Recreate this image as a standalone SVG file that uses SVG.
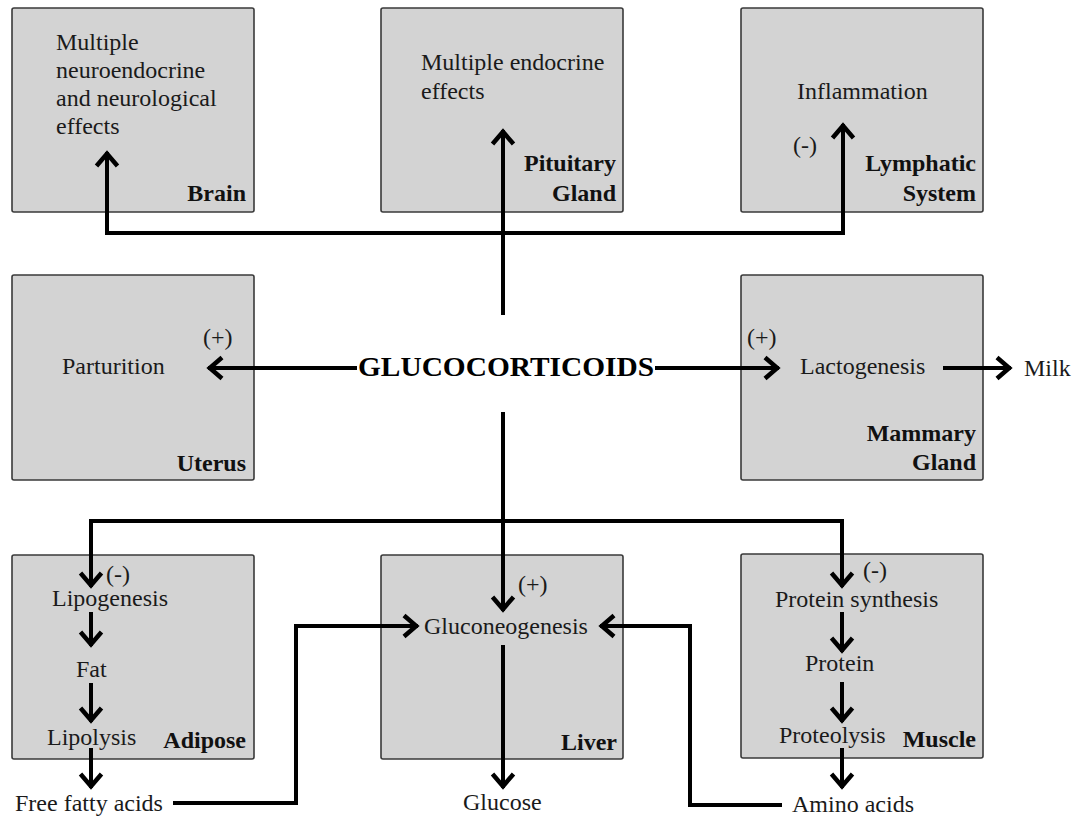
<svg xmlns="http://www.w3.org/2000/svg" width="1080" height="819" viewBox="0 0 1080 819">
<style>
.box{fill:#d3d3d3;stroke:#3a3a3a;stroke-width:1.6}
.t{font-family:"Liberation Serif","Times New Roman",serif;font-size:24px;fill:#1a1a1a}
.b{font-family:"Liberation Serif","Times New Roman",serif;font-size:24px;font-weight:bold;fill:#111;text-anchor:end}
.ln{fill:none;stroke:#000;stroke-width:4;stroke-linejoin:miter}
</style>
<defs>
<marker id="ah" markerUnits="userSpaceOnUse" viewBox="-18 -14 20 28" markerWidth="20" markerHeight="28" refX="0" refY="0" orient="auto">
<path d="M-14,-10.5 L-1.8,0 L-14,10.5" fill="none" stroke="#000" stroke-width="4.5"/>
</marker>
</defs>
<rect width="1080" height="819" fill="#fff"/>

<g id="brain">
<rect class="box" x="12" y="8" width="242" height="204" rx="2"/>
<text class="t" x="56" y="50">Multiple</text>
<text class="t" x="56" y="78">neuroendocrine</text>
<text class="t" x="56" y="106">and neurological</text>
<text class="t" x="56" y="134">effects</text>
<text class="b" x="246" y="201">Brain</text>
</g>
<g id="pituitary">
<rect class="box" x="381" y="8" width="242" height="204" rx="2"/>
<text class="t" x="421" y="70">Multiple endocrine</text>
<text class="t" x="421" y="99">effects</text>
<text class="b" x="616" y="171">Pituitary</text>
<text class="b" x="616" y="201">Gland</text>
</g>
<g id="lymphatic">
<rect class="box" x="741" y="8" width="242" height="204" rx="2"/>
<text class="t" x="797" y="99">Inflammation</text>
<text class="t" x="793" y="153">(-)</text>
<text class="b" x="976" y="171">Lymphatic</text>
<text class="b" x="976" y="201">System</text>
</g>
<g id="uterus">
<rect class="box" x="12" y="275" width="242" height="205" rx="2"/>
<text class="t" x="203" y="345">(+)</text>
<text class="t" x="62" y="374">Parturition</text>
<text class="b" x="246" y="471">Uterus</text>
</g>
<g id="glucocorticoids">
<text x="358" y="376" textLength="296" lengthAdjust="spacingAndGlyphs" style="font-family:'Liberation Serif','Times New Roman',serif;font-size:28px;font-weight:bold;fill:#000">GLUCOCORTICOIDS</text>
</g>
<g id="mammary">
<rect class="box" x="741" y="275" width="242" height="205" rx="2"/>
<text class="t" x="747" y="345">(+)</text>
<text class="t" x="800" y="374">Lactogenesis</text>
<text class="b" x="976" y="441">Mammary</text>
<text class="b" x="976" y="470">Gland</text>
</g>
<g id="milk">
<text class="t" x="1024" y="376">Milk</text>
</g>
<g id="adipose">
<rect class="box" x="12" y="555" width="242" height="204" rx="2"/>
<text class="t" x="106" y="582">(-)</text>
<text class="t" x="52" y="606">Lipogenesis</text>
<text class="t" x="76" y="677">Fat</text>
<text class="t" x="47" y="745">Lipolysis</text>
<text class="b" x="246" y="748">Adipose</text>
</g>
<g id="liver">
<rect class="box" x="381" y="555" width="242" height="204" rx="2"/>
<text class="t" x="518" y="592">(+)</text>
<text class="t" x="424" y="634">Gluconeogenesis</text>
<text class="b" x="617" y="750">Liver</text>
</g>
<g id="muscle">
<rect class="box" x="741" y="554" width="242" height="204" rx="2"/>
<text class="t" x="863" y="578">(-)</text>
<text class="t" x="775" y="607">Protein synthesis</text>
<text class="t" x="805" y="671">Protein</text>
<text class="t" x="779" y="743">Proteolysis</text>
<text class="b" x="976" y="747">Muscle</text>
</g>
<g id="free-fatty-acids">
<text class="t" x="15" y="811">Free fatty acids</text>
</g>
<g id="glucose">
<text class="t" x="463" y="810">Glucose</text>
</g>
<g id="amino-acids">
<text class="t" x="792" y="812">Amino acids</text>
</g>

<g id="connectors">
<path class="ln" d="M503,315 V130" marker-end="url(#ah)"/>
<path class="ln" d="M503,233 H107 V152" marker-end="url(#ah)"/>
<path class="ln" d="M503,233 H843 V124" marker-end="url(#ah)"/>
<path class="ln" d="M357,368 H208" marker-end="url(#ah)"/>
<path class="ln" d="M655,368 H779" marker-end="url(#ah)"/>
<path class="ln" d="M943,368 H1011" marker-end="url(#ah)"/>
<path class="ln" d="M503,412 V611" marker-end="url(#ah)"/>
<path class="ln" d="M503,521 H91 V587" marker-end="url(#ah)"/>
<path class="ln" d="M503,521 H842 V587" marker-end="url(#ah)"/>
<path class="ln" d="M91,612 V646" marker-end="url(#ah)"/>
<path class="ln" d="M91,683 V722" marker-end="url(#ah)"/>
<path class="ln" d="M91,748 V788" marker-end="url(#ah)"/>
<path class="ln" d="M842,612 V652" marker-end="url(#ah)"/>
<path class="ln" d="M842,682 V722" marker-end="url(#ah)"/>
<path class="ln" d="M842,748 V788" marker-end="url(#ah)"/>
<path class="ln" d="M503,645 V788" marker-end="url(#ah)"/>
<path class="ln" d="M173,803 H296 V626 H418" marker-end="url(#ah)"/>
<path class="ln" d="M782,805 H690 V626 H600" marker-end="url(#ah)"/>
</g>
</svg>
